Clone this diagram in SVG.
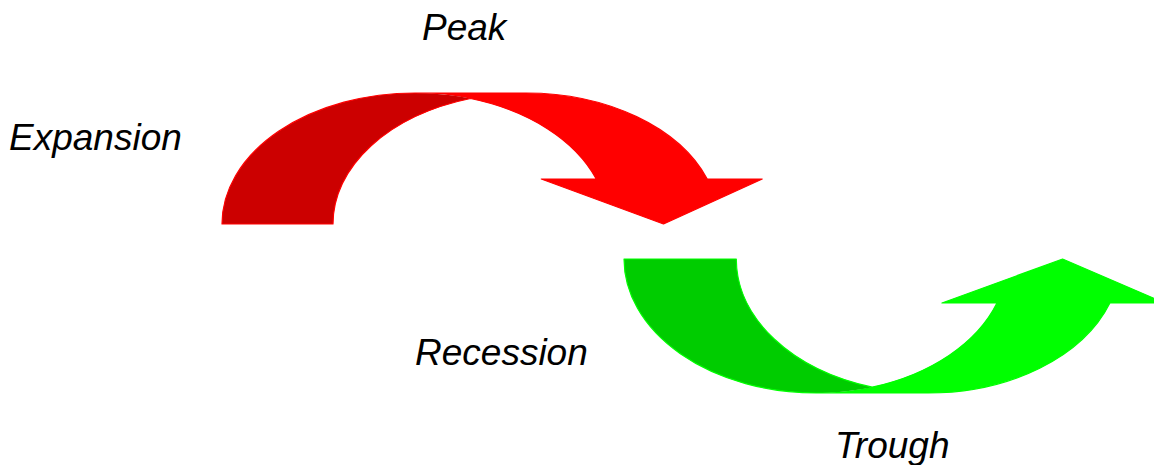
<svg xmlns="http://www.w3.org/2000/svg" width="1154" height="465" viewBox="0 0 1154 465">
  <style>
    .lbl { font-family: "Liberation Sans", Arial, sans-serif; font-style: italic; font-size: 37px; fill: #000000; }
    .red-front { fill: #FF0000; }
    .red-back { fill: #CC0000; }
    .red-line { fill: none; stroke: #FF0000; stroke-width: 1.2; stroke-linejoin: round; }
    .green-front { fill: #00FF00; }
    .green-back { fill: #00CC00; }
    .green-line { fill: none; stroke: #00FF00; stroke-width: 1.2; stroke-linejoin: round; }
  </style>
  <rect width="1154" height="465" fill="#FFFFFF"/>
  <g id="connectors">
    <g id="red-arrow">
      <path class="red-front" d="M 663.5 224 L 541.26 179 L 596.26 179 A 193 131 0 0 0 415 93 L 526 93 A 193 131 0 0 1 707.26 179 L 762.26 179 Z"/>
      <path class="red-back" d="M 470.5 98.53 A 193 131 0 0 0 333 224 L 222 224 A 193 131 0 0 1 470.5 98.53 Z"/>
      <path class="red-line" d="M 470.5 98.53 A 193 131 0 0 0 333 224 L 222 224 A 193 131 0 0 1 415 93 L 526 93 A 193 131 0 0 1 707.26 179 L 762.26 179 L 663.5 224 L 541.26 179 L 596.26 179 A 193 131 0 0 0 470.5 98.53"/>
    </g>
    <g id="green-arrow">
      <path class="green-front" d="M 1062.6 259 L 941.94 303 L 996.94 303 A 192.3 134 0 0 1 816.3 393 L 928.3 393 A 192.3 134 0 0 0 1109.94 303 L 1164.94 303 Z"/>
      <path class="green-back" d="M 872.3 387.19 A 192.3 134 0 0 1 736.3 259 L 624 259 A 192.3 134 0 0 0 872.3 387.19 Z"/>
      <path class="green-line" d="M 872.3 387.19 A 192.3 134 0 0 1 736.3 259 L 624 259 A 192.3 134 0 0 0 816.3 393 L 928.3 393 A 192.3 134 0 0 0 1109.94 303 L 1164.94 303 L 1062.6 259 L 941.94 303 L 996.94 303 A 192.3 134 0 0 1 872.3 387.19"/>
    </g>
  </g>
  <g id="node-peak"><text class="lbl" x="422" y="40">Peak</text></g>
  <g id="node-expansion"><text class="lbl" x="9" y="150">Expansion</text></g>
  <g id="node-recession"><text class="lbl" x="415" y="365">Recession</text></g>
  <g id="node-trough"><text class="lbl" x="835" y="458">Trough</text></g>
</svg>
